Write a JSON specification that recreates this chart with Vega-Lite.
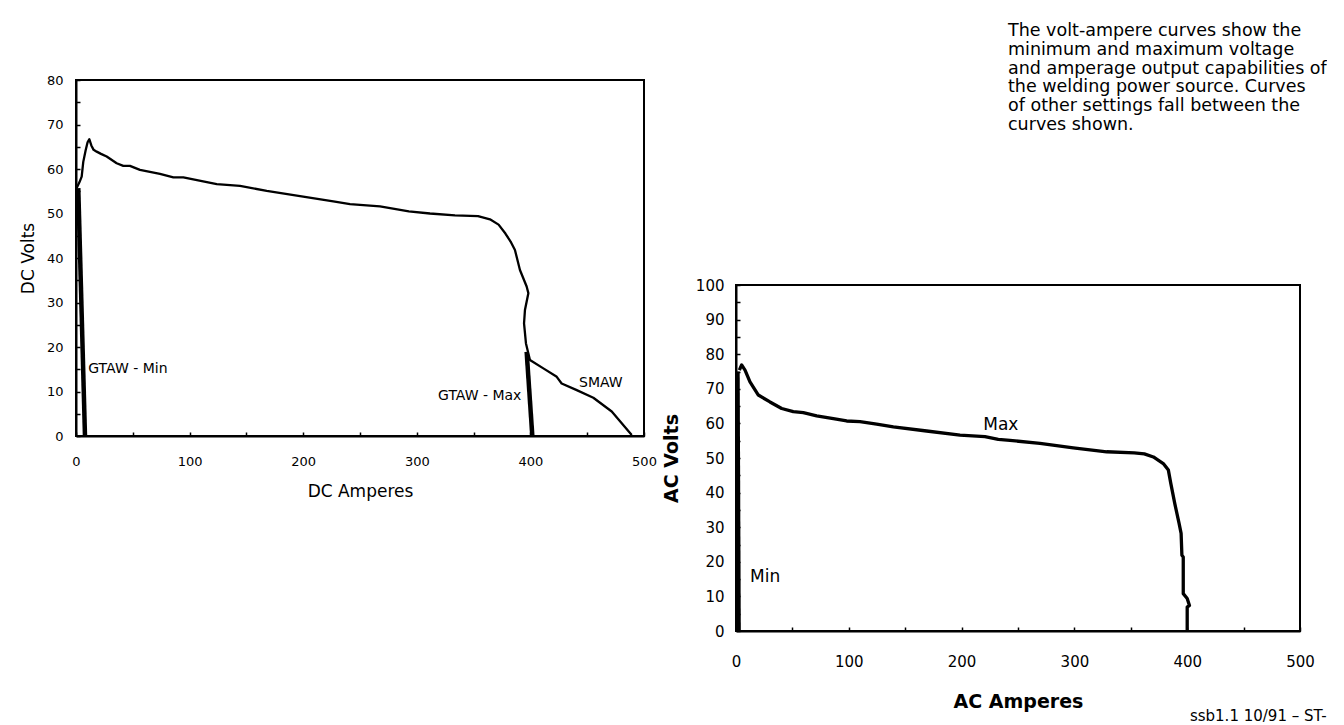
{
  "$schema": "https://vega.github.io/schema/vega-lite/v6.json",
  "background": "white",
  "padding": {"left": 18, "top": 19, "right": 0, "bottom": 0},
  "title": {"text": "ssb1.1 10/91 – ST-", "orient": "bottom", "anchor": "end", "font": "DejaVu Sans", "fontSize": 15, "fontWeight": "normal", "color": "black", "offset": -3},
  "spacing": 3,
  "datasets": {
    "dc": [
      {"series": "SMAW", "i": 0, "amps": 0.5, "volts": 55.7},
      {"series": "SMAW", "i": 1, "amps": 3, "volts": 57},
      {"series": "SMAW", "i": 2, "amps": 5, "volts": 58.3},
      {"series": "SMAW", "i": 3, "amps": 6.4, "volts": 61.6},
      {"series": "SMAW", "i": 4, "amps": 8.5, "volts": 64.2},
      {"series": "SMAW", "i": 5, "amps": 10.2, "volts": 66},
      {"series": "SMAW", "i": 6, "amps": 11.7, "volts": 66.7},
      {"series": "SMAW", "i": 7, "amps": 13.5, "volts": 65.3},
      {"series": "SMAW", "i": 8, "amps": 15.5, "volts": 64.3},
      {"series": "SMAW", "i": 9, "amps": 18.2, "volts": 63.9},
      {"series": "SMAW", "i": 10, "amps": 22, "volts": 63.4},
      {"series": "SMAW", "i": 11, "amps": 27, "volts": 62.8},
      {"series": "SMAW", "i": 12, "amps": 35.8, "volts": 61.3},
      {"series": "SMAW", "i": 13, "amps": 41.6, "volts": 60.7},
      {"series": "SMAW", "i": 14, "amps": 47.5, "volts": 60.7},
      {"series": "SMAW", "i": 15, "amps": 56.3, "volts": 59.8},
      {"series": "SMAW", "i": 16, "amps": 73.9, "volts": 58.9},
      {"series": "SMAW", "i": 17, "amps": 85.7, "volts": 58.1},
      {"series": "SMAW", "i": 18, "amps": 94.5, "volts": 58.1},
      {"series": "SMAW", "i": 19, "amps": 123.9, "volts": 56.6},
      {"series": "SMAW", "i": 20, "amps": 144.4, "volts": 56.2},
      {"series": "SMAW", "i": 21, "amps": 167.9, "volts": 55.1},
      {"series": "SMAW", "i": 22, "amps": 197.2, "volts": 53.9},
      {"series": "SMAW", "i": 23, "amps": 226.5, "volts": 52.7},
      {"series": "SMAW", "i": 24, "amps": 241.2, "volts": 52.1},
      {"series": "SMAW", "i": 25, "amps": 267.6, "volts": 51.6},
      {"series": "SMAW", "i": 26, "amps": 293, "volts": 50.5},
      {"series": "SMAW", "i": 27, "amps": 311.6, "volts": 50.0},
      {"series": "SMAW", "i": 28, "amps": 333.6, "volts": 49.6},
      {"series": "SMAW", "i": 29, "amps": 353.9, "volts": 49.4},
      {"series": "SMAW", "i": 30, "amps": 364.4, "volts": 48.7},
      {"series": "SMAW", "i": 31, "amps": 372, "volts": 47.5},
      {"series": "SMAW", "i": 32, "amps": 378, "volts": 45.5},
      {"series": "SMAW", "i": 33, "amps": 383, "volts": 43.5},
      {"series": "SMAW", "i": 34, "amps": 386.4, "volts": 41.8},
      {"series": "SMAW", "i": 35, "amps": 390.8, "volts": 37.3},
      {"series": "SMAW", "i": 36, "amps": 396.7, "volts": 33.6},
      {"series": "SMAW", "i": 37, "amps": 398.2, "volts": 32.1},
      {"series": "SMAW", "i": 38, "amps": 395.2, "volts": 28.3},
      {"series": "SMAW", "i": 39, "amps": 394.4, "volts": 25.3},
      {"series": "SMAW", "i": 40, "amps": 396.1, "volts": 20.8},
      {"series": "SMAW", "i": 41, "amps": 399.6, "volts": 17.1},
      {"series": "SMAW", "i": 42, "amps": 411.4, "volts": 15.2},
      {"series": "SMAW", "i": 43, "amps": 423.2, "volts": 13.3},
      {"series": "SMAW", "i": 44, "amps": 427.5, "volts": 11.8},
      {"series": "SMAW", "i": 45, "amps": 440.8, "volts": 10.3},
      {"series": "SMAW", "i": 46, "amps": 455.4, "volts": 8.6},
      {"series": "SMAW", "i": 47, "amps": 471.6, "volts": 5.5},
      {"series": "SMAW", "i": 48, "amps": 489.2, "volts": 0.2},
      {"series": "GTAW - Min", "i": 0, "amps": 2, "volts": 55.7},
      {"series": "GTAW - Min", "i": 1, "amps": 7.9, "volts": 0},
      {"series": "GTAW - Max", "i": 0, "amps": 396.7, "volts": 18.9},
      {"series": "GTAW - Max", "i": 1, "amps": 401.7, "volts": 0}
    ],
    "dclabels": [
      {"label": "GTAW - Min", "amps": 10.8, "volts": 15.1},
      {"label": "GTAW - Max", "amps": 318.7, "volts": 9.1},
      {"label": "SMAW", "amps": 442.8, "volts": 11.8}
    ],
    "ac": [
      {"series": "Max", "i": 0, "amps": 3, "volts": 75.4},
      {"series": "Max", "i": 1, "amps": 5, "volts": 76.9},
      {"series": "Max", "i": 2, "amps": 8, "volts": 75.4},
      {"series": "Max", "i": 3, "amps": 12.4, "volts": 72},
      {"series": "Max", "i": 4, "amps": 19.8, "volts": 68.2},
      {"series": "Max", "i": 5, "amps": 30.1, "volts": 66.2},
      {"series": "Max", "i": 6, "amps": 40.5, "volts": 64.3},
      {"series": "Max", "i": 7, "amps": 50.8, "volts": 63.4},
      {"series": "Max", "i": 8, "amps": 59.7, "volts": 63.1},
      {"series": "Max", "i": 9, "amps": 71.5, "volts": 62.2},
      {"series": "Max", "i": 10, "amps": 86.3, "volts": 61.4},
      {"series": "Max", "i": 11, "amps": 98.1, "volts": 60.7},
      {"series": "Max", "i": 12, "amps": 109.9, "volts": 60.5},
      {"series": "Max", "i": 13, "amps": 124.7, "volts": 59.8},
      {"series": "Max", "i": 14, "amps": 139.5, "volts": 59.0},
      {"series": "Max", "i": 15, "amps": 169, "volts": 57.8},
      {"series": "Max", "i": 16, "amps": 198.6, "volts": 56.6},
      {"series": "Max", "i": 17, "amps": 220.7, "volts": 56.2},
      {"series": "Max", "i": 18, "amps": 232.5, "volts": 55.4},
      {"series": "Max", "i": 19, "amps": 242.9, "volts": 55.1},
      {"series": "Max", "i": 20, "amps": 269.5, "volts": 54.2},
      {"series": "Max", "i": 21, "amps": 299, "volts": 52.9},
      {"series": "Max", "i": 22, "amps": 328.6, "volts": 51.8},
      {"series": "Max", "i": 23, "amps": 353, "volts": 51.5},
      {"series": "Max", "i": 24, "amps": 362, "volts": 51.2},
      {"series": "Max", "i": 25, "amps": 370, "volts": 50.3},
      {"series": "Max", "i": 26, "amps": 378.8, "volts": 48.4},
      {"series": "Max", "i": 27, "amps": 383.3, "volts": 46.5},
      {"series": "Max", "i": 28, "amps": 385.5, "volts": 42.6},
      {"series": "Max", "i": 29, "amps": 389, "volts": 36.8},
      {"series": "Max", "i": 30, "amps": 392.8, "volts": 31.1},
      {"series": "Max", "i": 31, "amps": 394.6, "volts": 28.2},
      {"series": "Max", "i": 32, "amps": 395.3, "volts": 21.9},
      {"series": "Max", "i": 33, "amps": 396.5, "volts": 21.4},
      {"series": "Max", "i": 34, "amps": 396.5, "volts": 10.8},
      {"series": "Max", "i": 35, "amps": 400, "volts": 9.4},
      {"series": "Max", "i": 36, "amps": 402, "volts": 7.4},
      {"series": "Max", "i": 37, "amps": 400, "volts": 6.9},
      {"series": "Max", "i": 38, "amps": 400, "volts": 0},
      {"series": "Min", "i": 0, "amps": 1.5, "volts": 75},
      {"series": "Min", "i": 1, "amps": 2.5, "volts": 0}
    ],
    "aclabels": [
      {"label": "Max", "amps": 219.2, "volts": 59.5},
      {"label": "Min", "amps": 12.4, "volts": 15.6}
    ]
  },
  "hconcat": [
    {
      "spacing": 0,
      "vconcat": [
        {
          "width": 568,
          "height": 53.5,
          "view": {"stroke": null},
          "data": {"values": []},
          "mark": "point"
        },
        {
          "width": 568,
          "height": 356,
          "data": {"name": "dc"},
          "encoding": {
            "x": {"field": "amps", "type": "quantitative",
              "scale": {"domain": [0, 500], "nice": false},
              "axis": {"title": "DC Amperes", "values": [0, 50, 100, 150, 200, 250, 300, 350, 400, 450, 500],
                "labelExpr": "datum.value % 100 === 0 ? datum.label : ''",
                "labelFont": "DejaVu Sans", "labelFontSize": 13, "labelPadding": 23,
                "titleFont": "DejaVu Sans", "titleFontSize": 17, "titleFontWeight": "normal", "titlePadding": 15}},
            "y": {"field": "volts", "type": "quantitative",
              "scale": {"domain": [0, 80], "nice": false},
              "axis": {"title": "DC Volts", "values": [0, 5, 10, 15, 20, 25, 30, 35, 40, 45, 50, 55, 60, 65, 70, 75, 80],
                "labelExpr": "datum.value % 10 === 0 ? datum.label : ''",
                "labelFont": "DejaVu Sans", "labelFontSize": 13, "labelPadding": 17,
                "titleFont": "DejaVu Sans", "titleFontSize": 17, "titleFontWeight": "normal", "titlePadding": 9}},
            "order": {"field": "i", "type": "quantitative"}
          },
          "layer": [
            {"transform": [{"filter": "datum.series === 'SMAW'"}],
             "mark": {"type": "line", "color": "black", "strokeWidth": 2.3, "strokeJoin": "round"}},
            {"transform": [{"filter": "datum.series !== 'SMAW'"}],
             "mark": {"type": "line", "color": "black", "strokeWidth": 4.5},
             "encoding": {"detail": {"field": "series"}}},
            {"data": {"name": "dclabels"},
             "mark": {"type": "text", "align": "left", "baseline": "middle", "font": "DejaVu Sans", "fontSize": 14, "color": "black"},
             "encoding": {"text": {"field": "label"}, "order": null}}
          ]
        }
      ]
    },
    {
      "spacing": 143,
      "vconcat": [
        {
          "width": 564,
          "height": 1,
          "view": {"stroke": null},
          "title": {"text": ["The volt-ampere curves show the", "minimum and maximum voltage", "and amperage output capabilities of", "the welding power source. Curves", "of other settings fall between the", "curves shown."],
            "orient": "bottom", "anchor": "start", "frame": "group", "dx": 272, "offset": 2, "font": "DejaVu Sans", "fontSize": 17.5, "fontWeight": "normal", "lineHeight": 18.8, "color": "black"},
          "data": {"values": []},
          "mark": "point"
        },
        {
          "width": 564,
          "height": 346,
          "data": {"name": "ac"},
          "encoding": {
            "x": {"field": "amps", "type": "quantitative",
              "scale": {"domain": [0, 500], "nice": false},
              "axis": {"title": "AC Amperes", "values": [0, 50, 100, 150, 200, 250, 300, 350, 400, 450, 500],
                "labelExpr": "datum.value % 100 === 0 ? datum.label : ''",
                "labelFont": "DejaVu Sans", "labelFontSize": 15, "labelPadding": 27,
                "titleFont": "DejaVu Sans", "titleFontSize": 19, "titleFontWeight": "bold", "titlePadding": 23}},
            "y": {"field": "volts", "type": "quantitative",
              "scale": {"domain": [0, 100], "nice": false},
              "axis": {"title": "AC Volts", "values": [0, 5, 10, 15, 20, 25, 30, 35, 40, 45, 50, 55, 60, 65, 70, 75, 80, 85, 90, 95, 100],
                "labelExpr": "datum.value % 10 === 0 ? datum.label : ''",
                "labelFont": "DejaVu Sans", "labelFontSize": 15, "labelPadding": 16,
                "titleFont": "DejaVu Sans", "titleFontSize": 19, "titleFontWeight": "bold", "titlePadding": 14}},
            "order": {"field": "i", "type": "quantitative"}
          },
          "layer": [
            {"transform": [{"filter": "datum.series === 'Max'"}],
             "mark": {"type": "line", "color": "black", "strokeWidth": 3.3, "strokeJoin": "round"}},
            {"transform": [{"filter": "datum.series === 'Min'"}],
             "mark": {"type": "line", "color": "black", "strokeWidth": 4}},
            {"data": {"name": "aclabels"},
             "mark": {"type": "text", "align": "left", "baseline": "middle", "font": "DejaVu Sans", "fontSize": 17, "color": "black"},
             "encoding": {"text": {"field": "label"}, "order": null}}
          ]
        }
      ]
    }
  ],
  "config": {
    "view": {"stroke": "black", "strokeWidth": 2},
    "axis": {"grid": false, "domainColor": "black", "domainWidth": 2, "tickColor": "black", "tickWidth": 1.5, "tickSize": -4, "labelColor": "black", "titleColor": "black", "labelOverlap": false, "labelFlush": false}
  }
}
